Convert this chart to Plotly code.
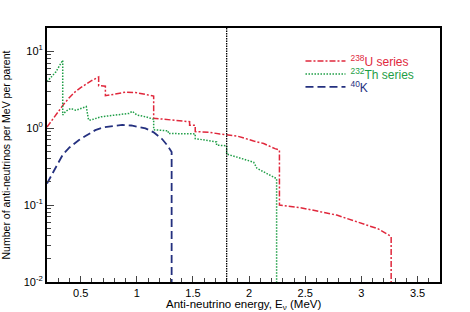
import plotly.graph_objects as go

# Anti-neutrino spectra per parent decay
u_energy = [0.2, 0.25, 0.3, 0.35, 0.4, 0.45, 0.5, 0.55, 0.6, 0.66, 0.66, 0.72, 0.72,
            0.8, 0.9, 1.0, 1.1, 1.15, 1.15, 1.3, 1.47, 1.47, 1.52, 1.52, 1.65, 1.74,
            1.89, 2.04, 2.13, 2.23, 2.27, 2.27, 2.48, 2.78, 3.01, 3.15, 3.265, 3.265]
u_values = [1.03, 1.3, 1.62, 2.05, 2.5, 2.95, 3.35, 3.75, 4.15, 4.6, 3.55, 3.5, 2.63,
            2.75, 2.93, 2.88, 2.72, 2.6, 1.34, 1.28, 1.21, 1.09, 1.09, 0.9, 0.88, 0.835,
            0.79, 0.68, 0.63, 0.54, 0.52, 0.1, 0.091, 0.074, 0.058, 0.049, 0.039, 0.01]

th_energy = [0.2, 0.28, 0.34, 0.34, 0.367, 0.41, 0.456, 0.5, 0.55, 0.57, 0.59, 0.68,
             0.78, 0.93, 0.96, 1.0, 1.08, 1.15, 1.15, 1.28, 1.28, 1.52, 1.52, 1.71,
             1.71, 1.8, 1.8, 2.04, 2.07, 2.245, 2.245]
th_values = [4.0, 5.4, 7.6, 1.48, 1.65, 1.8, 1.7, 1.8, 1.9, 1.27, 1.27, 1.4,
             1.45, 1.55, 1.65, 1.48, 1.4, 1.3, 0.95, 0.92, 0.85, 0.84, 0.73, 0.66,
             0.6, 0.59, 0.46, 0.36, 0.3, 0.22, 0.01]

k_energy = [0.2, 0.25, 0.3, 0.34, 0.4, 0.485, 0.55, 0.63, 0.7, 0.8, 0.87, 0.95,
            1.0, 1.077, 1.15, 1.225, 1.27, 1.31, 1.31]
k_values = [0.19, 0.26, 0.36, 0.45, 0.56, 0.70, 0.8, 0.94, 1.02, 1.08, 1.1, 1.08,
            1.05, 0.99, 0.88, 0.72, 0.6, 0.49, 0.01]

threshold = 1.8  # inverse beta decay threshold (MeV)

red = "#e0283c"
green = "#1e9e46"
navy = "#24307f"
font = "Liberation Sans, Arial, sans-serif"

fig = go.Figure()
fig.add_trace(go.Scatter(
    x=u_energy, y=u_values, mode="lines", legend="legend", showlegend=True,
    name=f"<span style='color:{red}'><sup>238</sup>U series</span>",
    line=dict(color=red, width=1.5, dash="6px,2px,2px,2px")))
fig.add_trace(go.Scatter(
    x=th_energy, y=th_values, mode="lines", legend="legend2", showlegend=True,
    name=f"<span style='color:{green}'><sup>232</sup>Th series</span>",
    line=dict(color=green, width=1.5, dash="1.5px,1.5px")))
fig.add_trace(go.Scatter(
    x=k_energy, y=k_values, mode="lines", legend="legend3", showlegend=True,
    name=f"<span style='color:{navy}'><sup>40</sup>K</span>",
    line=dict(color=navy, width=1.8, dash="8px,4px")))

fig.add_vline(x=threshold, line=dict(color="black", width=1.3, dash="1.5px,1px"))

y_major = [0.01, 0.1, 1, 10]
y_minor = [m * d for d in [0.01, 0.1, 1, 10] for m in range(2, 10) if m * d < 20]

leg = dict(x=0.645, xanchor="left", yanchor="middle", bgcolor="rgba(0,0,0,0)",
           font=dict(size=12), itemwidth=40, visible=True)

fig.update_layout(
    width=470, height=312,
    margin=dict(l=47, r=30, t=28, b=30),
    showlegend=True,
    paper_bgcolor="white", plot_bgcolor="white",
    font=dict(family=font, size=11, color="black"),
    legend=dict(leg, y=0.870),
    legend2=dict(leg, y=0.819),
    legend3=dict(leg, y=0.768),
    xaxis=dict(
        range=[0.2, 3.7], tick0=0, dtick=0.5, ticks="inside", ticklen=6,
        tickwidth=1, showgrid=False, zeroline=False, showline=True,
        linecolor="black", linewidth=2, mirror=True, automargin=False,
        minor=dict(dtick=0.1, tick0=0, ticks="inside", ticklen=4, showgrid=False)),
    yaxis=dict(
        type="log", range=[-2, 1.3], tickmode="array", tickvals=y_major,
        ticktext=["10<sup>-2</sup>", "10<sup>-1</sup>", "10<sup>0</sup>", "10<sup>1</sup>"],
        ticks="inside", ticklen=7, tickwidth=1, showgrid=False, zeroline=False,
        showline=True, linecolor="black", linewidth=2, mirror=True, automargin=False,
        minor=dict(tickmode="array", tickvals=y_minor, ticks="inside", ticklen=4,
                   showgrid=False),
        title=dict(text="Number of anti-neutrinos per MeV per parent",
                   font=dict(size=10.5), standoff=14)),
)

# x-axis title placed as an annotation so it sits snugly under the tick labels
fig.add_annotation(text="Anti-neutrino energy, E<sub>ν</sub> (MeV)",
                   xref="paper", yref="paper", x=0.5, y=-0.092,
                   xanchor="center", yanchor="middle", showarrow=False,
                   font=dict(size=11.5))

# drop the default page margin so the figure sits at the window corner
fig.write_html("out.html", config={"displayModeBar": False},
               post_script="document.body.style.margin='0';")
